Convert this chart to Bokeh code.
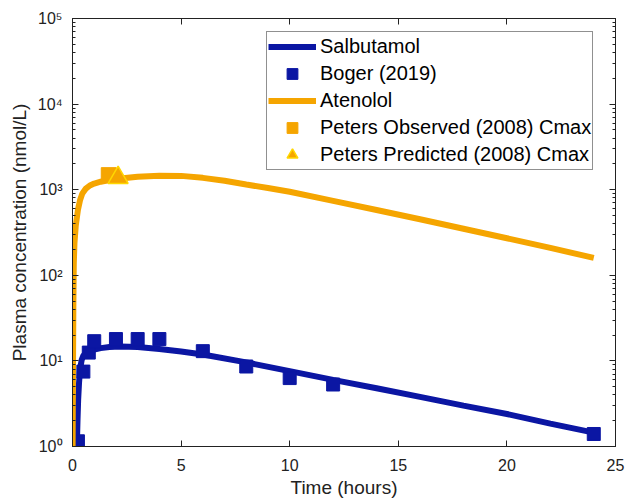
from bokeh.plotting import figure
from bokeh.models import (LinearAxis, LogAxis, FixedTicker, Legend, LegendItem, Range1d)
from bokeh.embed import file_html
from bokeh.resources import INLINE

# ---- data ----
sal_t = [0.17, 0.2, 0.23, 0.26, 0.3, 0.35, 0.42, 0.5, 0.65, 0.8, 1.0, 1.3, 1.7, 2.2,
         3.0, 4.0, 5.0, 6.0, 8.0, 10.0, 12.0, 14.0, 16.0, 18.0, 20.0, 22.0, 24.0]
sal_c = [0.5, 1.0, 2.0, 3.5, 5.5, 8.0, 10.2, 11.5, 12.7, 13.2, 13.6, 14.1, 14.5, 14.7,
         14.5, 13.8, 12.9, 11.9, 9.6, 7.6, 6.0, 4.8, 3.8, 3.0, 2.4, 1.85, 1.45]

bog_t = [0.25, 0.5, 0.75, 1, 2, 3, 4, 6, 8, 10, 12, 24]
bog_c = [1.15, 7.5, 12.5, 17, 18, 18, 18, 13, 8.6, 6.3, 5.3, 1.4]

ate_t = [0.0, 0.02, 0.04, 0.06, 0.09, 0.15, 0.25, 0.35, 0.45, 0.6, 0.8, 1.0, 1.3, 1.7,
         2.2, 3.0, 4.0, 5.0, 6.0, 7.0, 8.0, 9.0, 10.0, 12.0, 14.0, 16.0, 18.0, 20.0,
         22.0, 24.0]
ate_c = [0.5, 6, 45, 140, 236, 380, 580, 760, 900, 1020, 1120, 1180, 1240, 1300,
         1350, 1420, 1455, 1450, 1375, 1270, 1150, 1045, 946, 741, 579, 452, 350, 271,
         209, 160]

obs_t = [1.67]
obs_c = [1480]
pred_t = [2.1]
pred_c = [1380]

x_ticks = [0, 5, 10, 15, 20, 25]
y_ticks = [1, 10, 100, 1000, 10000, 100000]
y_tick_labels = ["10\u2070", "10\u00b9", "10\u00b2", "10\u00b3", "10\u2074", "10\u2075"]
y_minor = [m * 10 ** e for e in range(0, 5) for m in range(2, 10)]

BLUE = "#0B16A3"
ORANGE = "#F5A500"
YELLOW = "#FFD700"
INK = "#222222"
FONT = "Liberation Sans"

p = figure(width=627, height=502, x_range=Range1d(0, 25), y_range=Range1d(1, 1e5),
           y_axis_type="log", output_backend="svg", toolbar_location=None,
           min_border_left=72, min_border_right=12, min_border_top=18, min_border_bottom=56)
p.grid.visible = False
p.outline_line_color = INK
p.outline_line_width = 1
p.background_fill_color = "white"
p.border_fill_color = "white"

r_sal = p.line(sal_t, sal_c, line_color=BLUE, line_width=6)
r_bog = p.scatter(bog_t, bog_c, marker="square", size=13, fill_color=BLUE, line_color=BLUE)
r_ate = p.line(ate_t, ate_c, line_color=ORANGE, line_width=6)
r_obs = p.scatter(obs_t, obs_c, marker="square", size=15, fill_color=ORANGE, line_color=ORANGE)
r_pred = p.scatter(pred_t, pred_c, marker="triangle", size=20, fill_color=ORANGE,
                   line_color=YELLOW, line_width=1.5)

# bottom axis
xa = p.xaxis[0]
xa.ticker = FixedTicker(ticks=x_ticks)
xa.axis_label = "Time (hours)"
# left axis
ya = p.yaxis[0]
ya.ticker = FixedTicker(ticks=y_ticks, minor_ticks=y_minor)
ya.major_label_overrides = {t: s for t, s in zip(y_ticks, y_tick_labels)}
ya.axis_label = "Plasma concentration (nmol/L)"

for ax in (xa, ya):
    ax.axis_line_color = INK
    ax.major_tick_line_color = INK
    ax.minor_tick_line_color = INK
    ax.major_tick_in = 6
    ax.major_tick_out = 0
    ax.minor_tick_in = 3
    ax.minor_tick_out = 0
    ax.major_label_text_font = FONT
    ax.major_label_text_font_size = "16px"
    ax.major_label_text_color = INK
    ax.axis_label_text_font = FONT
    ax.axis_label_text_font_size = "19px"
    ax.axis_label_text_font_style = "normal"
    ax.axis_label_text_color = INK

xa.major_label_standoff = 12
xa.axis_label_standoff = 3
ya.major_label_standoff = 10
ya.axis_label_standoff = 5

# top and right mirrored axes (ticks only)
top = LinearAxis(ticker=FixedTicker(ticks=x_ticks),
                 major_label_overrides={t: "" for t in x_ticks},
                 major_label_text_font_size="1px", major_label_standoff=0,
                 axis_line_color=INK, major_tick_line_color=INK,
                 major_tick_in=6, major_tick_out=0, minor_tick_line_color=None)
right = LogAxis(ticker=FixedTicker(ticks=y_ticks, minor_ticks=y_minor),
                major_label_overrides={t: "" for t in y_ticks},
                major_label_text_font_size="1px", major_label_standoff=0,
                axis_line_color=INK, major_tick_line_color=INK, minor_tick_line_color=INK,
                major_tick_in=6, major_tick_out=0, minor_tick_in=3, minor_tick_out=0)
p.add_layout(top, "above")
p.add_layout(right, "right")

legend = Legend(items=[
    LegendItem(label="Salbutamol", renderers=[r_sal]),
    LegendItem(label="Boger (2019)", renderers=[r_bog]),
    LegendItem(label="Atenolol", renderers=[r_ate]),
    LegendItem(label="Peters Observed (2008) Cmax", renderers=[r_obs]),
    LegendItem(label="Peters Predicted (2008) Cmax", renderers=[r_pred]),
], location=(194, 276))
legend.border_line_color = INK
legend.border_line_width = 1
legend.background_fill_color = "white"
legend.background_fill_alpha = 1
legend.label_text_font = FONT
legend.label_text_font_size = "20px"
legend.label_text_color = "black"
legend.glyph_width = 48
legend.glyph_height = 27
legend.label_height = 27
legend.spacing = 0
legend.padding = 1
legend.margin = 0
legend.label_standoff = 4
p.add_layout(legend)

open("out.html", "w").write(file_html(p, INLINE))
